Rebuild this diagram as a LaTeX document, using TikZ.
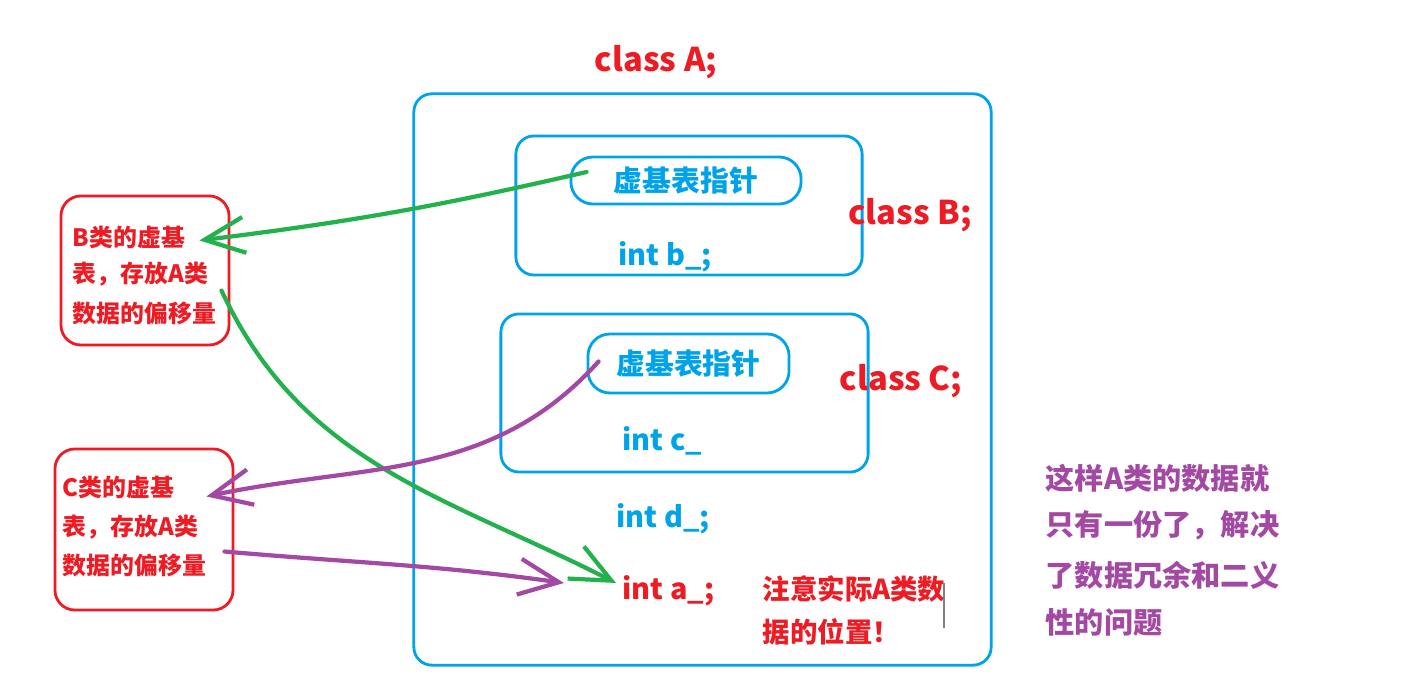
\documentclass[tikz,border=0pt]{standalone}
\usepackage{fontspec}
\setmainfont{Noto Sans CJK SC}
\usetikzlibrary{arrows.meta}
\definecolor{clsblue}{RGB}{0,162,232}
\definecolor{notered}{RGB}{237,28,36}
\definecolor{arrgreen}{RGB}{34,177,76}
\definecolor{arrpurple}{RGB}{163,73,164}

\begin{document}
\begin{tikzpicture}[x=0.01cm,y=-0.01cm,
    classbox/.style={draw=clsblue, line width=0.8pt, rounded corners=0.18cm, inner sep=0pt},
    ptrbox/.style={draw=clsblue, line width=0.8pt, rounded corners=0.22cm, inner sep=0pt,
      text=clsblue, font=\bfseries\fontsize{8.2}{10}\selectfont},
    notebox/.style={draw=notered, line width=0.8pt, rounded corners=0.2cm, inner sep=0pt},
    clslabel/.style={text=notered, inner sep=0pt, font=\bfseries\fontsize{9.3}{11}\selectfont},
    member/.style={anchor=west, inner sep=0pt, text=clsblue, font=\bfseries\fontsize{8.2}{10}\selectfont},
    noteline/.style={anchor=west, inner sep=0pt, text=notered, font=\bfseries\fontsize{6.8}{8}\selectfont},
    warnline/.style={anchor=west, inner sep=0pt, text=notered, font=\bfseries\fontsize{7.8}{9}\selectfont},
    sumline/.style={anchor=west, inner sep=0pt, text=arrpurple, font=\bfseries\fontsize{8.3}{10}\selectfont},
    link/.style={line width=1.2pt, line cap=round, -{Straight Barb[length=4mm,width=3.6mm]}}]
  \useasboundingbox (0,0) rectangle (1406,698);

  % class A and the two sub-objects
  \node[classbox, minimum width=5.77cm, minimum height=5.71cm] (clsA) at (702.5,379.5) {};
  \node[clslabel] (labA) at (656,62) {class A;};

  \node[classbox, minimum width=3.46cm, minimum height=1.39cm] (clsB) at (689,205.5) {};
  \node[ptrbox, minimum width=2.30cm, minimum height=0.47cm] (bptr) at (686,180.5) {虚基表指针};
  \node[member] (memb) at (618,257) {int b\_;};
  \node[clslabel] (labB) at (910,215) {class B;};

  \node[classbox, minimum width=3.67cm, minimum height=1.58cm] (clsC) at (684.5,393) {};
  \node[ptrbox, minimum width=2.01cm, minimum height=0.59cm] (cptr) at (688.5,363.5) {虚基表指针};
  \node[member] (memc) at (622,441) {int c\_};
  \node[clslabel] (labC) at (901,381) {class C;};

  \node[member] (memd) at (616,519) {int d\_;};
  \node[member, text=notered] (mema) at (622,591) {int a\_;};

  \node[warnline] (warn1) at (762,589) {注意实际A类数};
  \node[warnline] (warn2) at (762,632) {据的位置！};
  \draw[gray, line width=0.4pt] (944,583) -- (944,628);

  % virtual base tables
  \node[notebox, minimum width=1.68cm, minimum height=1.49cm] (bnote) at (145,270.5) {};
  \node[noteline] (bn1) at (72,237) {B类的虚基};
  \node[noteline] (bn2) at (72,274) {表，存放A类};
  \node[noteline] (bn3) at (72,313) {数据的偏移量};

  \node[notebox, minimum width=1.78cm, minimum height=1.61cm] (cnote) at (144,529.5) {};
  \node[noteline] (cn1) at (62,487) {C类的虚基};
  \node[noteline] (cn2) at (62,527) {表，存放A类};
  \node[noteline] (cn3) at (62,565) {数据的偏移量};

  % summary
  \node[sumline] (sum1) at (1045,478) {这样A类的数据就};
  \node[sumline] (sum2) at (1045,525) {只有一份了，解决};
  \node[sumline] (sum3) at (1045,575) {了数据冗余和二义};
  \node[sumline] (sum4) at (1045,622) {性的问题};

  % arrows
  \draw[link, arrgreen] ([xshift=0.17cm,yshift=0.085cm]bptr.west) to[bend left=3]
      ([xshift=-0.31cm,yshift=0.3cm]bnote.east);
  \draw[link, arrgreen] ([xshift=-0.09cm,yshift=-0.2cm]bnote.east) to[out=-65,in=153]
      ([xshift=-0.06cm,yshift=0.08cm]mema.west);
  \draw[link, arrpurple] ([xshift=0.12cm,yshift=0.02cm]cptr.west) to[out=228,in=12]
      ([xshift=-0.28cm,yshift=0.33cm]cnote.east);
  \draw[link, arrpurple] ([xshift=-0.1cm,yshift=-0.22cm]cnote.east) to[out=-5,in=172]
      ([xshift=-0.58cm,yshift=0.08cm]mema.west);
\end{tikzpicture}
\end{document}
